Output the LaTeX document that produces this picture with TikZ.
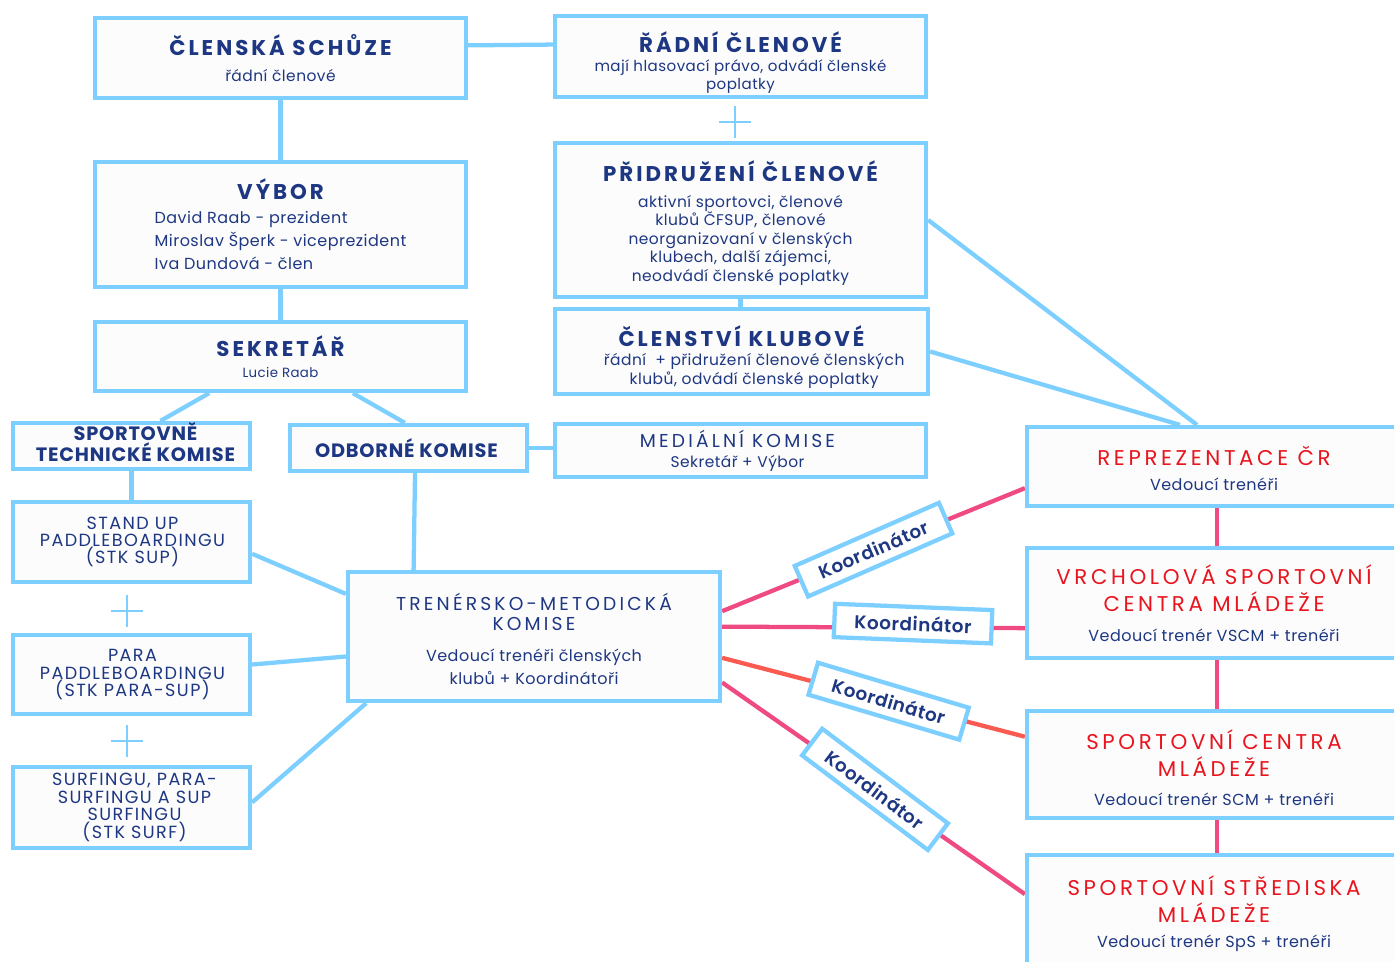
\documentclass[tikz,border=0pt]{standalone}
\usepackage{fontspec}
\setmainfont{Poppins}[LetterSpace=3]
\newfontfamily\fTitle[LetterSpace=14]{Poppins}
\newfontfamily\fWide[LetterSpace=17]{Poppins}
\newfontfamily\fCaps[LetterSpace=8]{Poppins}
\newfontfamily\fBold[LetterSpace=4]{Poppins}
\newfontfamily\fSemi[LetterSpace=3]{Poppins SemiBold}
\usetikzlibrary{calc,backgrounds}
\definecolor{lb}{RGB}{125,207,255}
\definecolor{navy}{RGB}{30,55,130}
\definecolor{redt}{RGB}{232,20,30}
\definecolor{pinkl}{RGB}{239,74,129}
\definecolor{orl}{RGB}{250,90,80}
\definecolor{boxfill}{RGB}{252,252,252}
\newcommand\ttl[1]{{\fontsize{16}{16}\fTitle\bfseries #1}}
\newcommand\rtl[1]{{\fontsize{16}{16}\fWide\color{redt}#1}}
\newcommand\wtl[1]{{\fontsize{14}{14}\fWide #1}}
\tikzset{
  box/.style={draw=lb, line width=3.2pt, fill=boxfill, inner sep=0pt},
  txt/.style={inner sep=0pt, align=center, text=navy},
  sz/.style 2 args={minimum width=#1*0.75pt, minimum height=#2*0.75pt},
  conn/.style={draw=lb, line width=3.2pt},
  pk/.style={draw=pinkl, line width=3.2pt},
  orc/.style={draw=orl, line width=3.2pt},
  koord/.style={draw=lb, line width=3.2pt, fill=white, text=navy, inner sep=0pt,
    minimum width=118pt, minimum height=25pt, font=\fontsize{13.8}{13.8}\fSemi},
  plus/.style={draw=lb, line width=1.6pt}
}
\begin{document}
\begin{tikzpicture}[x=0.75pt,y=-0.75pt]
\useasboundingbox (0,0) rectangle (1394,961);

% ---------- boxes ----------
\node[box,sz={371}{80}]  (cs)   at (280.5,58) {};
\node[box,sz={371}{125}] (vy)   at (280.5,224.5) {};
\node[box,sz={371}{69}]  (se)   at (280.5,356.5) {};
\node[box,sz={237}{46}]  (stk)  at (131.5,446) {};
\node[box,sz={237}{46}]  (ok)   at (408.5,448) {};
\node[box,sz={371}{81}]  (rc)   at (740.5,56.5) {};
\node[box,sz={371}{154}] (pc)   at (740.5,220) {};
\node[box,sz={373}{85}]  (ck)   at (741.5,351.5) {};
\node[box,sz={371}{53}]  (mk)   at (740.5,450.5) {};
\node[box,sz={237}{80}]  (sup)  at (131.5,542) {};
\node[box,sz={237}{79}]  (para) at (131.5,674.5) {};
\node[box,sz={237}{81}]  (surf) at (131.5,807.5) {};
\node[box,sz={372}{129}] (tmk)  at (534,636.5) {};
\node[box,sz={374}{79}]  (rep)  at (1214,466.5) {};
\node[box,sz={374}{110}] (vr)   at (1214,603) {};
\node[box,sz={374}{107}] (scm)  at (1214,764.5) {};
\node[box,sz={374}{117}] (sps)  at (1214,913.5) {};

% ---------- texts ----------
\node[txt,font=\fontsize{11.6}{14}\selectfont] (cs-t) at ($(cs)+(0,0)$)
  {\ttl{ČLENSKÁ SCHŮZE}\\[6pt]řádní členové};
\node[txt,font=\fontsize{12}{17.25}\selectfont] (vy-t) at ($(vy)+(0,3.5)$)
  {\ttl{VÝBOR}\\[0.75pt]\begin{tabular}[t]{@{}l@{}}David Raab - prezident\\Miroslav Šperk - viceprezident\\Iva Dundová - člen\end{tabular}};
\node[txt,font=\fontsize{10}{15.75}\selectfont] (se-t) at ($(se)+(0,0)$)
  {\ttl{SEKRETÁŘ}\\Lucie Raab};
\node[txt,font=\fontsize{14.5}{14.25}\fBold\bfseries] (stk-t) at ($(stk)+(4,-4)$)
  {SPORTOVNĚ\\TECHNICKÉ KOMISE};
\node[txt,font=\fontsize{14.5}{14.25}\fBold\bfseries] (ok-t) at ($(ok)+(-2,0)$)
  {ODBORNÉ KOMISE};
\node[txt,font=\fontsize{11.3}{13.5}\selectfont] (rc-t) at ($(rc)+(0,6.5)$)
  {\ttl{ŘÁDNÍ ČLENOVÉ}\\[0.8pt]mají hlasovací právo, odvádí členské\\poplatky};
\node[txt,font=\fontsize{11.6}{13.9}\selectfont] (pc-t) at ($(pc)+(0,3)$)
  {\ttl{PŘIDRUŽENÍ ČLENOVÉ}\\[5.6pt]aktivní sportovci, členové\\klubů ČFSUP, členové\\neorganizovaní v členských\\klubech, další zájemci,\\neodvádí členské poplatky};
\node[txt,font=\fontsize{11.6}{14.3}\selectfont] (ck-t) at ($(ck)+(0,6)$)
  {\ttl{ČLENSTVÍ KLUBOVÉ}\\\hspace*{19pt}řádní \ + přidružení členové členských\\\hspace*{19pt}klubů, odvádí členské poplatky};
\node[txt,font=\fontsize{11.6}{15}\selectfont] (mk-t) at ($(mk)+(-3,0)$)
  {\wtl{MEDIÁLNÍ KOMISE}\\Sekretář + Výbor};
\node[txt,font=\fontsize{13.2}{12.9}\fCaps] (sup-t) at ($(sup)+(1,0)$)
  {STAND UP\\PADDLEBOARDINGU\\(STK SUP)};
\node[txt,font=\fontsize{13.2}{13.2}\fCaps] (para-t) at ($(para)+(1,0)$)
  {PARA\\PADDLEBOARDINGU\\(STK PARA-SUP)};
\node[txt,font=\fontsize{13.2}{13.1}\fCaps] (surf-t) at ($(surf)+(3,0)$)
  {SURFINGU, PARA-\\SURFINGU A SUP\\SURFINGU\\(STK SURF)};
\node[txt,font=\fontsize{12}{15}\selectfont] (tmk-t) at ($(tmk)+(0,2)$)
  {\wtl{TRENÉRSKO-METODICKÁ}\\\wtl{KOMISE}\\[8.25pt]Vedoucí trenéři členských\\[2.25pt]klubů + Koordinátoři};
\node[txt,font=\fontsize{12}{18.75}\selectfont] (rep-t) at ($(rep)+(0,2)$)
  {\rtl{REPREZENTACE ČR}\\Vedoucí trenéři};
\node[txt,font=\fontsize{12}{20.25}\selectfont] (vr-t) at ($(vr)+(0,0)$)
  {\rtl{VRCHOLOVÁ SPORTOVNÍ}\\\rtl{CENTRA MLÁDEŽE}\\[2.25pt]Vedoucí trenér VSCM + trenéři};
\node[txt,font=\fontsize{12}{20.25}\selectfont] (scm-t) at ($(scm)+(0,3)$)
  {\rtl{SPORTOVNÍ CENTRA}\\\rtl{MLÁDEŽE}\\[1.5pt]Vedoucí trenér SCM + trenéři};
\node[txt,font=\fontsize{12}{20.25}\selectfont] (sps-t) at ($(sps)+(0,0)$)
  {\rtl{SPORTOVNÍ STŘEDISKA}\\\rtl{MLÁDEŽE}\\[-1.5pt]Vedoucí trenér SpS + trenéři};

% ---------- connectors ----------
\begin{scope}[on background layer]
  \fill[white] (0,0) rectangle (1394,961);
  \draw[conn] ($(cs.north east)!0.35!(cs.south east)$) -- ($(rc.north west)!0.36!(rc.south west)$);
  \draw[conn] (cs.south) -- (vy.north);
  \draw[conn] (vy.south) -- (se.north);
  \draw[conn] ($(se.south west)!0.31!(se.south east)$) -- ($(stk.north west)!0.62!(stk.north east)$);
  \draw[conn] ($(se.south west)!0.693!(se.south east)$) -- ($(ok.north west)!0.485!(ok.north east)$);
  \draw[conn] (stk.south) -- (sup.north);
  \draw[conn] ($(ok.south west)!0.527!(ok.south east)$) -- ($(tmk.north west)!0.18!(tmk.north east)$);
  \draw[conn] (ok.east) -- (ok.east -| mk.west);
  \draw[conn] (pc.south) -- (pc.south |- ck.north);
  \draw[conn] (pc.east) -- ($(rep.north west)!0.455!(rep.north east)$);
  \draw[conn] (ck.east) -- ($(rep.north west)!0.41!(rep.north east)$);
  \draw[conn] ($(sup.north east)!0.64!(sup.south east)$) -- ($(tmk.north west)!0.18!(tmk.south west)$);
  \draw[conn] ($(para.north east)!0.38!(para.south east)$) -- ($(tmk.north west)!0.65!(tmk.south west)$);
  \draw[conn] ($(surf.north east)!0.44!(surf.south east)$) -- ($(tmk.south west)!0.054!(tmk.south east)$);

  \draw[pk] ($(rep.south)+(3,0)$) -- ($(vr.north)+(3,0)$);
  \draw[pk] ($(vr.south)+(3,0)$) -- ($(scm.north)+(3,0)$);
  \draw[pk] ($(scm.south)+(3,0)$) -- ($(sps.north)+(3,0)$);

  \draw[pk] ($(tmk.north east)!0.31!(tmk.south east)$) -- ($(rep.north west)!0.76!(rep.south west)$);
  \draw[pk] ($(tmk.north east)!0.426!(tmk.south east)$) -- ($(vr.north west)!0.72!(vr.south west)$);
  \draw[orc] ($(tmk.north east)!0.66!(tmk.south east)$) -- ($(scm.north west)!0.25!(scm.south west)$);
  \draw[pk] ($(tmk.north east)!0.845!(tmk.south east)$) -- ($(sps.north west)!0.34!(sps.south west)$);
\end{scope}

% ---------- coordinator labels ----------
\path ($(tmk.north east)!0.31!(tmk.south east)$) --
    node[koord,sloped,pos=0.5,rotate=1.5] (k1) {Koordinátor}
    ($(rep.north west)!0.76!(rep.south west)$);
\path ($(tmk.north east)!0.426!(tmk.south east)$) --
    node[koord,sloped,pos=0.63,rotate=-2,yshift=3pt] (k2) {Koordinátor}
    ($(vr.north west)!0.72!(vr.south west)$);
\path ($(tmk.north east)!0.66!(tmk.south east)$) --
    node[koord,sloped,pos=0.55,rotate=-2] (k3) {Koordinátor}
    ($(scm.north west)!0.25!(scm.south west)$);
\path ($(tmk.north east)!0.845!(tmk.south east)$) --
    node[koord,sloped,pos=0.505,rotate=-2] (k4) {Koordinátor}
    ($(sps.north west)!0.34!(sps.south west)$);

% ---------- plus signs ----------
\draw[plus] (735,106) -- (735,138) (719,122) -- (751,122);
\draw[plus] (127,595) -- (127,627) (111,611) -- (143,611);
\draw[plus] (127,725) -- (127,757) (111,741) -- (143,741);
\end{tikzpicture}
\end{document}
